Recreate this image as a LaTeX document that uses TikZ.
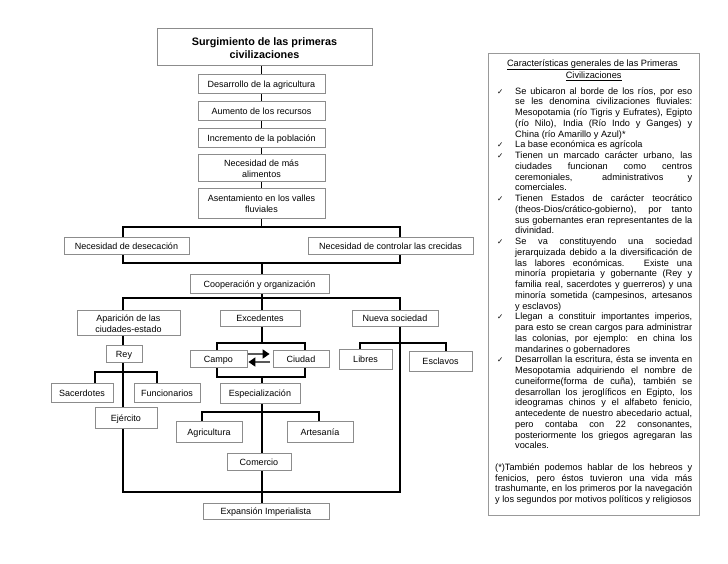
\documentclass[tikz,border=0pt]{standalone}
\usepackage{fontspec}
\setmainfont{Liberation Sans}
\newfontfamily\dejavu{DejaVu Sans}
\usetikzlibrary{arrows.meta,backgrounds}
\definecolor{boxgray}{HTML}{8C8C8C}
\definecolor{panelgray}{HTML}{999999}
\newcommand\ckmk{{\dejavu\fontsize{7.5}{7.5}\selectfont ✓}}
\newcommand\PFirstJ[1]{\hbox to 197pt{\hbox to 20pt{\hskip2pt\ckmk\hfil}\hbox to 177pt{#1}}}
\newcommand\PFirstL[1]{\hbox to 197pt{\hbox to 20pt{\hskip2pt\ckmk\hfil}#1\hfil}}
\newcommand\PMidJ[1]{\hbox to 197pt{\hskip20pt\hbox to 177pt{#1}}}
\newcommand\PMidL[1]{\hbox to 197pt{\hskip20pt #1\hfil}}
\newcommand\PFootJ[1]{\hbox to 197pt{#1}}
\newcommand\PFootL[1]{\hbox to 197pt{#1\hfil}}
\newcommand\boxfont{\fontsize{9}{10.7}\selectfont}
\newcommand\titlefont{\bfseries\fontsize{10.8}{13}\selectfont}
\begin{document}
\begin{tikzpicture}[x=1pt,y=-1pt,
  box/.style={draw=boxgray, fill=white, line width=0.8pt, inner sep=0pt, align=center, font=\boxfont, text height=7.8pt, text depth=0pt},
  boxtwo/.style={draw=boxgray, fill=white, line width=0.8pt, inner sep=0pt, align=center, font=\boxfont, text height=19pt, text depth=0pt},
  con/.style={line width=1.1pt, black},
  arr/.style={line width=1.6pt, gray!70!black, -{Triangle[length=7pt,width=9pt,color=black]}}]
\useasboundingbox (0,0) rectangle (728,563);

% main column
\node[boxtwo, font=\titlefont, text height=23.5pt, minimum width=215pt, minimum height=37pt] (title) at (264.5,46.5) {Surgimiento de las primeras\\civilizaciones};
\node[box, minimum width=127pt, minimum height=19pt] (desa) at (261.5,84) {Desarrollo de la agricultura};
\node[box, minimum width=127pt, minimum height=19pt] (aume) at (261.5,111) {Aumento de los recursos};
\node[box, minimum width=127pt, minimum height=19pt] (incr) at (261.5,137.5) {Incremento de la población};
\node[boxtwo, minimum width=127pt, minimum height=27pt] (nece) at (261.5,167.5) {Necesidad de más\\alimentos};
\node[boxtwo, minimum width=127pt, minimum height=30pt] (asen) at (261.5,203) {Asentamiento en los valles\\fluviales};
\node[box, minimum width=125pt, minimum height=17pt] (dese) at (126.5,245.5) {Necesidad de desecación};
\node[box, minimum width=165pt, minimum height=17pt] (cont) at (390.5,245.5) {Necesidad de controlar las crecidas};
\node[box, minimum width=139pt, minimum height=19pt] (coop) at (259.5,283.5) {Cooperación y organización};
\node[boxtwo, minimum width=103pt, minimum height=25pt] (apar) at (128.5,322.5) {Aparición de las\\ciudades-estado};
\node[box, minimum width=80pt, minimum height=16pt] (exce) at (260,318) {Excedentes};
\node[box, minimum width=86pt, minimum height=16pt] (nuev) at (395,318) {Nueva sociedad};
\node[box, minimum width=36pt, minimum height=17pt] (rey) at (124,353.5) {Rey};
\node[box, minimum width=62pt, minimum height=19pt] (sace) at (82,392.5) {Sacerdotes};
\node[box, minimum width=66pt, minimum height=19pt] (func) at (167,392.5) {Funcionarios};
\node[box, minimum width=62pt, minimum height=21pt] (ejer) at (126,417.5) {Ejército};
\node[box, minimum width=57pt, minimum height=17pt] (camp) at (218.5,358.5) {Campo};
\node[box, minimum width=56pt, minimum height=17pt] (ciud) at (301,358.5) {Ciudad};
\node[box, minimum width=80pt, minimum height=20pt] (espe) at (260,393) {Especialización};
\node[box, minimum width=66pt, minimum height=21pt] (agri) at (209,431.5) {Agricultura};
\node[box, minimum width=66pt, minimum height=21pt] (arte) at (320,431.5) {Artesanía};
\node[box, minimum width=64pt, minimum height=17pt] (come) at (259,461.5) {Comercio};
\node[box, minimum width=126pt, minimum height=16pt] (expa) at (266,511) {Expansión Imperialista};
\node[box, minimum width=53pt, minimum height=20pt] (libr) at (365.5,359) {Libres};
\node[box, minimum width=63pt, minimum height=20pt] (escl) at (440.5,361) {Esclavos};

% junctions
\coordinate (jAL) at (123,227); \coordinate (jAR) at (400,227);
\coordinate (jB) at (262,263); \coordinate (jBL) at (123,263); \coordinate (jBR) at (400,263);
\coordinate (jC) at (262,298); \coordinate (jCL) at (123,298); \coordinate (jCR) at (400,298);
\coordinate (jRL) at (95,372); \coordinate (jRR) at (157,372);
\coordinate (jE) at (262,343); \coordinate (jEL) at (217,343); \coordinate (jER) at (305,343);
\coordinate (jF) at (262,377); \coordinate (jFL) at (217,377); \coordinate (jFR) at (305,377);
\coordinate (jS) at (262,412); \coordinate (jSL) at (202,412); \coordinate (jSR) at (319,412);
\coordinate (jNL) at (360,343); \coordinate (jNR) at (446,343);
\coordinate (jZ) at (262,492); \coordinate (jZL) at (123,492); \coordinate (jZR) at (400,492);

\begin{scope}[on background layer]
\fill[white] (0,0) rectangle (728,563);
\draw[con] (title.south -| desa) -- (desa.north);
\draw[con] (desa) -- (aume);
\draw[con] (aume) -- (incr);
\draw[con] (incr) -- (nece);
\draw[con] (nece) -- (asen);
\draw[con] (asen.south) -- (asen.south |- jAL);
\draw[con] (jAL |- dese.north) -- (jAL) -- (jAR) -- (jAR |- cont.north);
\draw[con] (jBL |- dese.south) -- (jBL) -- (jBR) -- (jBR |- cont.south);
\draw[con] (jB) -- (jB |- coop.north);
\draw[con] (jB |- coop.south) -- (jC);
\draw[con] (jCL |- apar.north) -- (jCL) -- (jCR) -- (jCR |- nuev.north);
\draw[con] (jC) -- (jC |- exce.north);
\draw[con] (jCL |- apar.south) -- (jCL |- rey.north);
\draw[con] (jCL |- rey.south) -- (jZL) -- (jZR) -- (jZR |- nuev.south);
\draw[con] (jRL |- sace.north) -- (jRL) -- (jRR) -- (jRR |- func.north);
\draw[con] (jE |- exce.south) -- (jE);
\draw[con] (jEL |- camp.north) -- (jEL) -- (jER) -- (jER |- ciud.north);
\draw[con] (jFL |- camp.south) -- (jFL) -- (jFR) -- (jFR |- ciud.south);
\draw[con] (jF) -- (jF |- espe.north);
\draw[con] (jS |- espe.south) -- (jZ);
\draw[con] (jZ) -- (jZ |- expa.north);
\draw[con] (jSL |- agri.north) -- (jSL) -- (jSR) -- (jSR |- arte.north);
\draw[con] (jNL |- libr.north) -- (jNL) -- (jNR) -- (jNR |- escl.north);
\end{scope}

\draw[arr] ([xshift=1pt,yshift=4.5pt]camp.east) -- ([xshift=-3pt,yshift=4.5pt]ciud.west);
\draw[arr] ([xshift=-3pt,yshift=-3.5pt]ciud.west) -- ([xshift=1pt,yshift=-3.5pt]camp.east);

% right panel
\node[draw=panelgray, line width=0.8pt, minimum width=211pt, minimum height=462pt, inner sep=0pt] (panel) at (593.5,284) {};
\node[anchor=north west, inner sep=0pt] (ptext) at (495,58) {\vbox{\hsize=197pt\fontsize{9.2}{10.75}\selectfont
\hbox to 197pt{\vrule height 8pt depth 0pt width 0pt\hfil\underline{Características generales de las Primeras\ }\hfil}
\vskip 1.5pt
\hbox to 197pt{\hfil\underline{Civilizaciones}\hfil}
\vskip 5pt
\PFirstJ{Se ubicaron al borde de los ríos, por eso}
\PMidJ{se les denomina civilizaciones fluviales:}
\PMidJ{Mesopotamia (río Tigris y Eufrates), Egipto}
\PMidJ{(río Nilo), India (Río Indo y Ganges) y}
\PMidL{China (río Amarillo y Azul)*}
\PFirstL{La base económica es agrícola}
\PFirstJ{Tienen un marcado carácter urbano, las}
\PMidJ{ciudades funcionan como centros}
\PMidJ{ceremoniales, administrativos y}
\PMidL{comerciales.}
\PFirstJ{Tienen Estados de carácter teocrático}
\PMidJ{(theos-Dios/crático-gobierno), por tanto}
\PMidJ{sus gobernantes eran representantes de la}
\PMidL{divinidad.}
\PFirstJ{Se va constituyendo una sociedad}
\PMidJ{jerarquizada debido a la diversificación de}
\PMidJ{las labores económicas. Existe una}
\PMidJ{minoría propietaria y gobernante (Rey y}
\PMidJ{familia real, sacerdotes y guerreros) y una}
\PMidJ{minoría sometida (campesinos, artesanos}
\PMidL{y esclavos)}
\PFirstJ{Llegan a constituir importantes imperios,}
\PMidJ{para esto se crean cargos para administrar}
\PMidJ{las colonias, por ejemplo: en china los}
\PMidL{mandarines o gobernadores}
\PFirstJ{Desarrollan la escritura, ésta se inventa en}
\PMidJ{Mesopotamia adquiriendo el nombre de}
\PMidJ{cuneiforme(forma de cuña), también se}
\PMidJ{desarrollan los jeroglíficos en Egipto, los}
\PMidJ{ideogramas chinos y el alfabeto fenicio,}
\PMidJ{antecedente de nuestro abecedario actual,}
\PMidJ{pero contaba con 22 consonantes,}
\PMidJ{posteriormente los griegos agregaran las}
\PMidL{vocales.}
\vskip 10.75pt
\PFootJ{(*)También podemos hablar de los hebreos y}
\PFootJ{fenicios, pero éstos tuvieron una vida más}
\PFootJ{trashumante, en los primeros por la navegación}
\PFootL{y los segundos por motivos políticos y religiosos}
}};
\end{tikzpicture}
\end{document}
